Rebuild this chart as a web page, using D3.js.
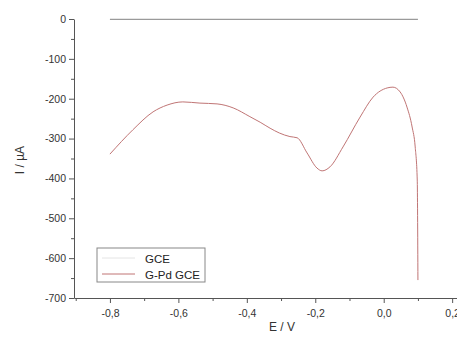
<!DOCTYPE html>
<html>
<head>
<meta charset="utf-8">
<script src="https://cdn.jsdelivr.net/npm/d3@7"></script>
<style>
  body { margin: 0; background: #fff; }
  svg { display: block; font-family: "Liberation Sans", Arial, sans-serif; }
  .axis path, .axis line { stroke: #555; }
  .axis text { fill: #333; font-size: 10.5px; }
  .title { fill: #333; font-size: 12px; }
</style>
</head>
<body>
<svg width="457" height="340"></svg>
<script>
// potential E (V) and current I (uA)
const gpdE = [-0.800, -0.733, -0.674, -0.633, -0.587, -0.537, -0.487, -0.440, -0.391, -0.361,
              -0.332, -0.305, -0.274, -0.253, -0.224, -0.195, -0.180, -0.157, -0.119, -0.069,
              -0.031, 0.010, 0.027, 0.048, 0.068, 0.083, 0.092, 0.098, 0.100]
const gpdI = [-339, -278, -233, -216, -208, -211, -213, -223, -245, -259,
              -274, -286, -295, -298, -336, -374, -381, -371, -321, -246,
              -196, -173, -171, -183, -221, -271, -321, -404, -655]
const gceE = [-0.80, -0.70, -0.60, -0.50, -0.40, -0.30, -0.20, -0.10, 0.00, 0.10]
const gceI = [-1, -1, -1, -1, -1, -1, -1, -1, -1, -1]

const xMajor = [-0.8, -0.6, -0.4, -0.2, 0.0, 0.2]
const xMinor = [-0.9, -0.7, -0.5, -0.3, -0.1, 0.1]
const yMajor = [0, -100, -200, -300, -400, -500, -600, -700]
const yMinor = [-50, -150, -250, -350, -450, -550, -650]

const seriesNames = ["GCE", "G-Pd GCE"]
const seriesColors = ["#9a9a9a", "#c07575"]

const svg = d3.select("svg")

const x = d3.scaleLinear()
    .domain([-0.905, 0.22])
    .range([74, 459])

const y = d3.scaleLinear()
    .domain([-700, 0])
    .range([298, 19])

const loc = d3.formatLocale({ decimal: ",", thousands: ".", grouping: [3], currency: ["", ""], minus: "-" })

// bottom axis
svg.append("g")
    .attr("class", "axis")
    .attr("transform", "translate(0,298)")
    .call(d3.axisBottom(x).tickValues(xMinor).tickSize(3).tickFormat(""))
    .call(g => g.select(".domain").remove())

svg.append("g")
    .attr("class", "axis")
    .attr("transform", "translate(0,298)")
    .call(d3.axisBottom(x).tickValues(xMajor).tickSize(5).tickSizeOuter(0).tickFormat(loc.format(".1f")))
    .call(g => g.selectAll("text").attr("dy", "1.05em"))

// left axis
svg.append("g")
    .attr("class", "axis")
    .attr("transform", "translate(74,0)")
    .call(d3.axisLeft(y).tickValues(yMinor).tickSize(3).tickFormat(""))
    .call(g => g.select(".domain").remove())

svg.append("g")
    .attr("class", "axis")
    .attr("transform", "translate(74,0)")
    .call(d3.axisLeft(y).tickValues(yMajor).tickSize(5).tickSizeOuter(0).tickFormat(loc.format("d")))

// axis titles
svg.append("text")
    .attr("class", "title")
    .attr("x", 282)
    .attr("y", 331)
    .attr("text-anchor", "middle")
    .text("E / V")

svg.append("text")
    .attr("class", "title")
    .attr("transform", "translate(24,160) rotate(-90)")
    .attr("text-anchor", "middle")
    .text("I / µA")

const line = d3.line()
    .x(d => x(d[0]))
    .y(d => y(d[1]))
    .curve(d3.curveMonotoneX)

svg.append("path")
    .datum(gceE.map((e, i) => [e, gceI[i]]))
    .attr("d", line)
    .attr("fill", "none")
    .attr("stroke", seriesColors[0])
    .attr("stroke-width", 1.2)

svg.append("path")
    .datum(gpdE.map((e, i) => [e, gpdI[i]]))
    .attr("d", line)
    .attr("fill", "none")
    .attr("stroke", seriesColors[1])
    .attr("stroke-width", 1)

// legend
const legend = svg.append("g").attr("transform", "translate(97,248)")

legend.append("rect")
    .attr("width", 108)
    .attr("height", 34)
    .attr("fill", "#fff")
    .attr("stroke", "#888")

seriesNames.forEach((name, i) => {
    legend.append("line")
        .attr("x1", 5).attr("x2", 38)
        .attr("y1", 10 + i * 16).attr("y2", 10 + i * 16)
        .attr("stroke", i == 0 ? "#e4e4e4" : seriesColors[1])
    legend.append("text")
        .attr("x", 48)
        .attr("y", 14.5 + i * 16)
        .attr("fill", "#222")
        .style("font-size", "11.5px")
        .text(name)
})
</script>
</body>
</html>
